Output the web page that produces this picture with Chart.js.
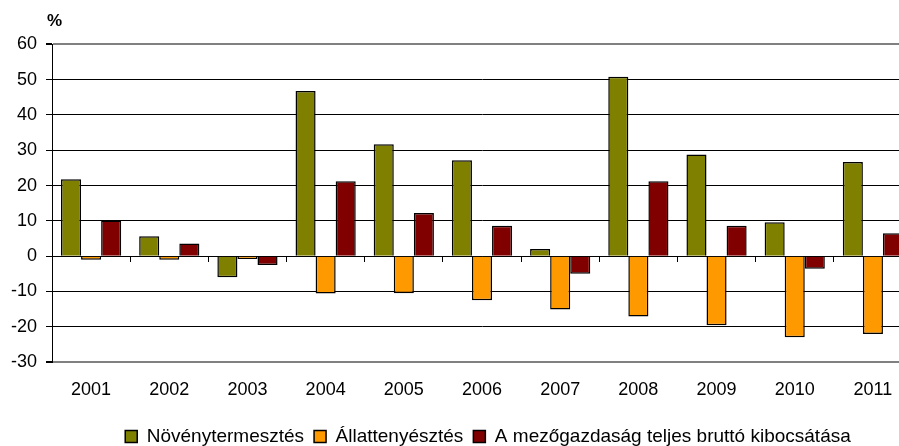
<!DOCTYPE html>
<html>
<head>
<meta charset="utf-8">
<script src="https://cdn.jsdelivr.net/npm/chart.js@4/dist/chart.umd.min.js"></script>
<style>
  html, body { margin: 0; padding: 0; background: #fff; overflow: hidden; }
</style>
</head>
<body>
<canvas id="chartOne" width="914" height="446"></canvas>
<script>
const years = ["2001", "2002", "2003", "2004", "2005", "2006", "2007", "2008", "2009", "2010", "2011"];
const novenyValues = [21.8, 5.6, -6.0, 46.8, 31.7, 27.2, 2.0, 50.8, 28.8, 9.6, 26.7];
const allatValues = [-1.0, -1.0, -0.8, -10.6, -10.5, -12.5, -15.1, -17.1, -19.6, -23.0, -22.1];
const teljesValues = [10.1, 3.6, -2.5, 21.2, 12.2, 8.6, -5.0, 21.2, 8.6, -3.6, 6.5];
const seriesNames = ["Növénytermesztés", "Állattenyésztés", "A mezőgazdaság teljes bruttó kibocsátása"];
const yMin = -30, yMax = 60, yStep = 10;

const font = "'Liberation Sans', Arial, sans-serif";

// nudge legend and the "%" label to where the original puts them
const shiftBoxes = {
  id: "shiftBoxes",
  afterLayout(chart) {
    const lg = chart.legend;
    lg.left += 32;
    lg.right += 32;
    const t = chart.titleBlock;
    t.left += 47;
    t.right += 47;
  }
};

const chartOne = document.getElementById("chartOne");
new Chart(chartOne, {
  type: "bar",
  data: {
    labels: years,
    datasets: [
      { label: seriesNames[0], data: novenyValues, backgroundColor: "#808000", borderColor: "#000", borderWidth: 1.5 },
      { label: seriesNames[1], data: allatValues, backgroundColor: "#FF9900", borderColor: "#000", borderWidth: 1.5 },
      { label: seriesNames[2], data: teljesValues, backgroundColor: "#800000", borderColor: "#000", borderWidth: 1.5 }
    ]
  },
  options: {
    responsive: false,
    animation: false,
    datasets: {
      bar: { categoryPercentage: 0.77, barPercentage: 1.0 }
    },
    layout: { padding: { left: 0, right: 2, top: 0, bottom: -10 } },
    plugins: {
      tooltip: { enabled: false },
      title: {
        display: true,
        text: "%",
        align: "start",
        color: "#000",
        font: { family: font, size: 17, weight: "bold" },
        padding: { top: 11, bottom: 13 }
      },
      legend: {
        position: "bottom",
        labels: {
          color: "#000",
          font: { family: font, size: 19 },
          boxWidth: 12,
          boxHeight: 12,
          padding: 10
        }
      }
    },
    scales: {
      x: {
        grid: { display: false, drawTicks: false },
        border: { display: false },
        ticks: { color: "#000", font: { family: font, size: 18 }, padding: 17 },
        afterFit(scale) { scale.height = 55; }
      },
      x0: {
        type: "category",
        position: { y: 0 },
        offset: true,
        grid: { offset: true, drawOnChartArea: false, drawTicks: true, tickLength: 5, color: "#000", lineWidth: 1 },
        border: { display: true, color: "#000", width: 1 },
        ticks: { display: false }
      },
      y: {
        min: yMin,
        max: yMax,
        ticks: { stepSize: yStep, color: "#000", font: { family: font, size: 18 }, padding: 9 },
        grid: {
          color: (ctx) => (ctx.tick && (ctx.tick.value === yMax || ctx.tick.value === yMin) ? "#808080" : "#000"),
          lineWidth: (ctx) => (ctx.tick && (ctx.tick.value === yMax || ctx.tick.value === yMin) ? 2 : 1),
          tickColor: "#000",
          tickLength: 6
        },
        border: { display: true, color: "#000", width: 1 },
        afterFit(scale) { scale.width = 52; }
      }
    }
  },
  plugins: [shiftBoxes]
});
</script>
</body>
</html>
